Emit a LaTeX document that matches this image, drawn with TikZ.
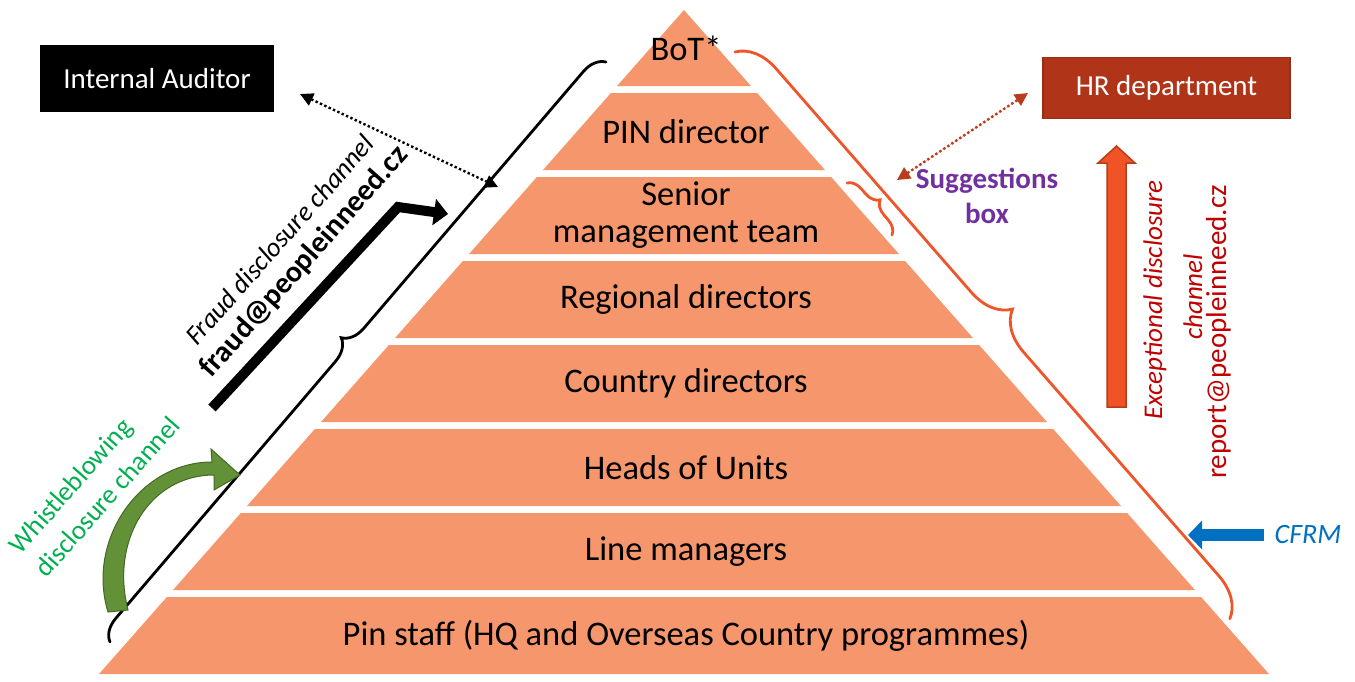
\documentclass[tikz,border=0pt]{standalone}
\usepackage{fontspec}
\setmainfont{Carlito}
\usetikzlibrary{arrows.meta,decorations.pathreplacing}

\definecolor{pyramid}{RGB}{245,150,108}
\definecolor{hrred}{RGB}{176,53,24}
\definecolor{bracered}{RGB}{238,86,42}
\definecolor{arrowred}{RGB}{240,84,38}
\definecolor{dotred}{RGB}{184,60,30}
\definecolor{suggpurple}{RGB}{112,48,160}
\definecolor{wbgreen}{RGB}{0,176,80}
\definecolor{arrowgreen}{RGB}{98,145,55}
\definecolor{darkgreen}{RGB}{68,105,38}
\definecolor{textred}{RGB}{192,0,0}
\definecolor{cfrmblue}{RGB}{0,112,192}

\tikzset{
  layer/.style={fill=pyramid},
  layertext/.style={font=\fontsize{34.5}{37}\selectfont, align=center, inner sep=0},
  darkbox/.style={fill=black, text=white, minimum width=234, minimum height=67,
    font=\fontsize{29}{33}\selectfont},
  hrbox/.style={fill=hrred, draw=hrred!85!black, line width=1.5pt, text=white,
    minimum width=247, minimum height=61, font=\fontsize{29}{33}\selectfont},
  blackbrace/.style={decorate, line width=2.8pt, line cap=round},
  redbrace/.style={decorate, draw=bracered, line width=2.8pt, line cap=round},
  dotarrow/.style={line width=2.4pt, dash pattern=on 2.4pt off 2.4pt,
    {Triangle[length=13pt,width=13pt]}-{Triangle[length=13pt,width=13pt]}},
  fraudarrow/.style={line width=10pt, -{Triangle[length=14pt,width=26pt]}},
  cfrmarrow/.style={draw=cfrmblue, line width=12pt, -{Triangle[length=14pt,width=28pt]}}
}

\begin{document}
\begin{tikzpicture}[x=1pt, y=-1pt]
\useasboundingbox (0,0) rectangle (1355,681);

% pyramid, top to bottom
\foreach \lab [count=\i from 0] in {BoT*,PIN director,{Senior\\management team},
    Regional directors,Country directors,Heads of Units,Line managers,
    Pin staff (HQ and Overseas Country programmes)} {
  \pgfmathsetmacro\yb{86+84*\i}
  \pgfmathsetmacro\yt{\i==0 ? 10 : \yb-77}
  \pgfmathsetmacro\wt{0.881*(\yt-10)}
  \pgfmathsetmacro\wb{0.881*(\yb-10)}
  \fill[layer] (684-\wt,\yt) -- (684+\wt,\yt) -- (684+\wb,\yb) -- (684-\wb,\yb) -- cycle;
  \node[layertext] (layer\i) at (686,{(\yt+\yb)/2}) {\lab};
}

% boxes and labels
\node[darkbox] (auditor) at (157,78.5) {Internal Auditor};
\node[hrbox] (hr) at (1166.5,88) {HR department};
\node[text=suggpurple, align=center, font=\bfseries\fontsize{29}{35}\selectfont]
  (sugg) at (987,196) {Suggestions\\box};
\node[rotate=48.5, align=center, inner sep=0, font=\fontsize{27}{32}\selectfont]
  (fraudtxt) at (293,252) {\itshape Fraud disclosure channel\\
  {\bfseries\fontsize{30}{32}\selectfont fraud@peopleinneed.cz}};
\node[rotate=48.5, align=left, inner sep=0, text=wbgreen, font=\fontsize{27}{35}\selectfont]
  (wbtxt) at (94,485) {Whistleblowing\\disclosure channel};
\node[rotate=90, anchor=base, inner sep=0, text=textred, font=\itshape\fontsize{27}{32}\selectfont]
  (exc1) at (1162,300) {Exceptional disclosure};
\node[rotate=90, anchor=base, inner sep=0, text=textred, font=\itshape\fontsize{27}{32}\selectfont]
  (exc2) at (1202,297) {channel};
\node[rotate=90, anchor=base, inner sep=0, text=textred, font=\fontsize{29}{32}\selectfont]
  (report) at (1226,332) {report@peopleinneed.cz};
\node[text=cfrmblue, font=\itshape\fontsize{28}{32}\selectfont] (cfrm) at (1308,535) {CFRM};

% braces
\coordinate (lb1) at (110,642);
\coordinate (lb2) at (606,62);
\draw[blackbrace, decoration={brace, amplitude=22pt}] (lb1) -- (lb2);
\coordinate (rb1) at (735,52);
\coordinate (rb2) at (1230,619);
\draw[redbrace, decoration={brace, amplitude=40pt}] (rb1) -- (rb2);
\coordinate (sb1) at (847,183);
\coordinate (sb2) at (892,235);
\draw[redbrace, decoration={brace, amplitude=14pt}] (sb1) -- (sb2);

% channels
\coordinate (audtip) at (300,94);
\coordinate (bracetip) at (498,187);
\draw[dotarrow] (audtip) -- (bracetip);
\coordinate (sbtip) at (897,180);
\coordinate (hrtip) at (1028,93);
\draw[dotarrow, draw=dotred, fill=dotred] (sbtip) -- (hrtip);

\coordinate (fr1) at (212,408);
\coordinate (fr2) at (398,207);
\coordinate (fr3) at (448,214);
\draw[fraudarrow] (fr1) -- (fr2) -- (fr3);

\coordinate (cf1) at (1264,535);
\coordinate (cf2) at (1188,535);
\draw[cfrmarrow] (cf1) -- (cf2);

% exceptional channel arrow
\filldraw[fill=arrowred, draw=arrowred!75!black, line width=1.5pt]
  (1107,407) -- (1107,163) -- (1098,163) -- (1116.5,146) -- (1135,163)
  -- (1126,163) -- (1126,407) -- cycle;

% whistleblowing arrow
\filldraw[fill=arrowgreen, draw=darkgreen, line width=1pt]
  (108,612) .. controls (86,540) and (140,462) .. (212,462)
  -- (211,449) -- (240,475) -- (214,490) -- (214,475)
  .. controls (150,475) and (110,540) .. (128,610) -- cycle;
\end{tikzpicture}
\end{document}
